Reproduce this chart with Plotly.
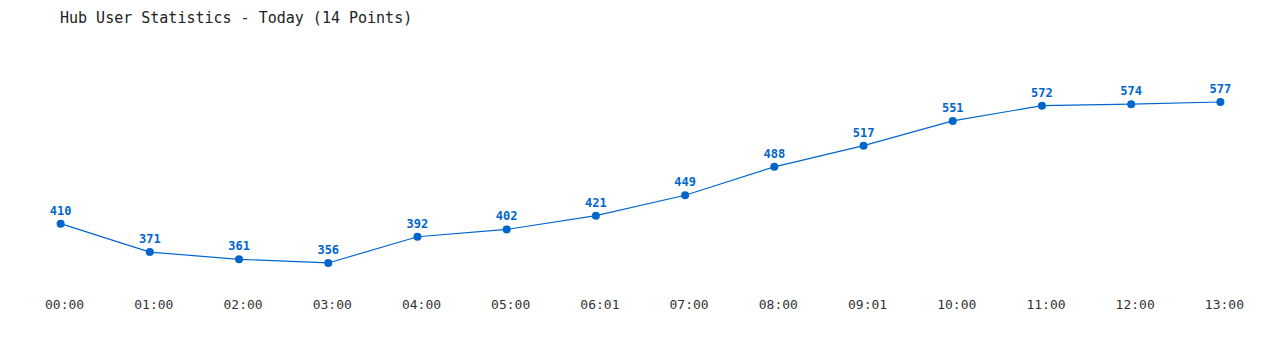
import plotly.graph_objects as go

times = ["00:00", "01:00", "02:00", "03:00", "04:00", "05:00", "06:01",
         "07:00", "08:00", "09:01", "10:00", "11:00", "12:00", "13:00"]
users = [410, 371, 361, 356, 392, 402, 421, 449, 488, 517, 551, 572, 574, 577]

blue = "#0066cc"
font_mono = "DejaVu Sans Mono, Liberation Mono, monospace"

fig = go.Figure()
fig.add_trace(go.Scatter(
    x=times, y=users, mode="lines+markers+text",
    line=dict(color=blue, width=1.2),
    marker=dict(color=blue, size=8),
    text=[str(v) for v in users], textposition="top center",
    textfont=dict(family=font_mono, size=12, color=blue, weight="bold"),
    hoverinfo="x+y",
))

fig.update_layout(
    width=1280, height=350,
    margin=dict(l=16, r=15, t=40, b=60),
    paper_bgcolor="white", plot_bgcolor="white",
    showlegend=False,
    title=dict(text="Hub User Statistics - Today (14 Points)",
               x=60/1280, xref="container", xanchor="left",
               y=1-18/350, yref="container", yanchor="middle",
               font=dict(family=font_mono, size=15, color="#222")),
    xaxis=dict(type="category", range=[-0.5, 13.5], showgrid=False,
               zeroline=False, showline=False, ticks="",
               ticklabelstandoff=5, ticklabelshift=4,
               tickfont=dict(family=font_mono, size=13, color="#333")),
    yaxis=dict(range=[318.9, 662.1], visible=False),
)

fig.write_html("out.html")
